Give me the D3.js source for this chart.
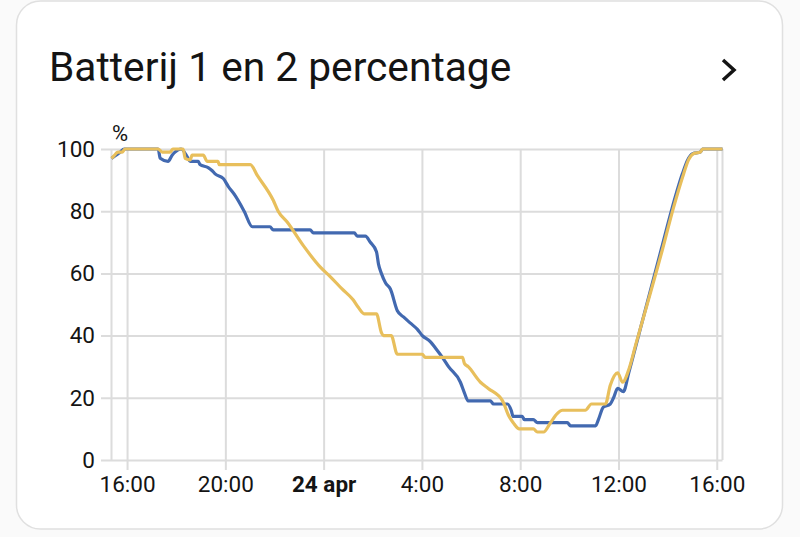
<!DOCTYPE html>
<html>
<head>
<meta charset="utf-8">
<title>Batterij 1 en 2 percentage</title>
<script src="https://d3js.org/d3.v7.min.js"></script>
<style>
    html, body { margin: 0; padding: 0; background: #fafafa; overflow: hidden; }
    text { font-family: Roboto, sans-serif; fill: #141414; }
    .axis path { display: none; }
    .axis line { stroke: #dcdcdc; stroke-width: 2; }
    .axis text { font-size: 22.5px; }
</style>
</head>
<body>
<script>
    const width = 800;
    const height = 537;

    // time values are minutes after 16:00 on 23 april
    const blueTime = [-38, -27, -17, -7, 76, 81, 100, 110, 117, 132, 149, 154, 174, 178, 198, 208, 215, 235, 247, 264, 286, 306, 349, 357, 447, 455, 555, 562, 582, 594, 609, 614, 621, 631, 643, 660, 675, 692, 709, 721, 741, 753, 770, 785, 814, 824, 833, 887, 895, 929, 938, 943, 965, 970, 992, 1002, 1075, 1083, 1144, 1151, 1163, 1180, 1188, 1198, 1212, 1225, 1237, 1305, 1331, 1356, 1369, 1381, 1400, 1405, 1454];
    const blueValues = [97, 98, 99, 100, 100, 97, 96, 98, 99, 100, 97, 96, 96, 95, 94, 93, 92, 90.5, 88, 85, 80, 75, 75, 74, 74, 73, 73, 72, 72, 70, 67, 63, 60, 57, 55, 48, 46, 44, 42, 40, 38, 36, 33, 30, 25, 21.5, 19, 19, 18, 18, 16, 14, 14, 13, 13, 12, 12, 11, 11, 13, 17, 18, 20, 23, 22, 28, 34, 68, 81, 92, 96.5, 98.5, 99, 100, 100];

    const orangeTime = [-38, -34, -22, -12, -5, 76, 86, 105, 112, 137, 142, 154, 159, 186, 196, 222, 225, 301, 318, 357, 369, 391, 430, 472, 496, 525, 552, 565, 579, 609, 621, 626, 645, 660, 721, 728, 819, 824, 833, 863, 882, 917, 931, 943, 958, 992, 1002, 1017, 1034, 1051, 1063, 1119, 1134, 1168, 1180, 1198, 1210, 1225, 1242, 1308, 1334, 1359, 1371, 1383, 1400, 1405, 1454];
    const orangeValues = [97, 97.5, 99, 99, 100, 100, 99, 99, 100, 100, 97, 96.5, 98, 98, 96, 96, 95, 95, 91.5, 83.5, 80, 76.5, 69, 62, 59, 55, 51.5, 49, 47, 47, 41, 40, 40, 34, 34, 33, 33, 31, 30, 25, 23, 19, 14.5, 12, 10, 10, 9, 9, 12, 15, 16, 16, 18, 18, 24, 28, 25, 29, 37, 68, 81, 92, 96.5, 98.5, 99, 100, 100];

    const tickMinutes = [0, 240, 480, 720, 960, 1200, 1440];
    const tickLabels = ['16:00', '20:00', '24 apr', '4:00', '8:00', '12:00', '16:00'];
    const yTicks = [0, 20, 40, 60, 80, 100];

    const startDate = new Date(2024, 3, 23, 16, 0);
    const toDate = m => d3.timeMinute.offset(startDate, m);

    const svg = d3.select('body')
        .append('svg')
        .attr('width', width)
        .attr('height', height)
        .style('display', 'block');

    // card
    svg.append('rect')
        .attr('x', 16.5)
        .attr('y', 1)
        .attr('width', 766)
        .attr('height', 528)
        .attr('rx', 24)
        .attr('fill', 'white')
        .attr('stroke', '#e0e0e0')
        .attr('stroke-width', 1.5);

    svg.append('text')
        .attr('x', 49)
        .attr('y', 81)
        .style('font-size', '40.7px')
        .text('Batterij 1 en 2 percentage');

    // chevron
    svg.append('path')
        .attr('d', 'M723 60 L734 70 L723 80')
        .attr('fill', 'none')
        .attr('stroke', '#141414')
        .attr('stroke-width', 3.5);

    svg.append('text')
        .attr('x', 120)
        .attr('y', 141)
        .attr('text-anchor', 'middle')
        .style('font-size', '22px')
        .text('%');

    const x = d3.scaleTime()
        .domain([toDate(-38), toDate(1454)])
        .range([111.5, 722.5]);

    const y = d3.scaleLinear()
        .domain([0, 100])
        .range([460, 149]);

    // left and right border of the plot
    svg.selectAll('line.edge')
        .data([toDate(-38), toDate(1454)])
        .enter()
        .append('line')
        .attr('class', 'edge')
        .attr('x1', d => x(d))
        .attr('x2', d => x(d))
        .attr('y1', y(100))
        .attr('y2', y(0))
        .attr('stroke', '#dcdcdc')
        .attr('stroke-width', 2);

    const yAxis = d3.axisLeft(y)
        .tickValues(yTicks)
        .tickSizeOuter(0);

    svg.append('g')
        .attr('class', 'axis')
        .attr('transform', 'translate(' + x.range()[1] + ',0)')
        .call(yAxis)
        .call(g => g.selectAll('line')
            .attr('x1', 0)
            .attr('x2', 101 - x.range()[1]))
        .call(g => g.selectAll('text')
            .attr('x', 95 - x.range()[1])
            .attr('dy', '0.32em')
            .attr('text-anchor', 'end'));

    const xAxis = d3.axisBottom(x)
        .tickValues(tickMinutes.map(toDate))
        .tickFormat((d, i) => tickLabels[i])
        .tickSizeOuter(0)
        .tickSize(321)
        .tickPadding(6);

    svg.append('g')
        .attr('class', 'axis')
        .attr('transform', 'translate(0,149)')
        .call(xAxis)
        .call(g => g.selectAll('text')
            .style('font-weight', (d, i) => i === 2 ? 'bold' : 'normal'));

    const line = d3.line()
        .x(d => x(toDate(d[0])))
        .y(d => y(d[1]))
        .curve(d3.curveMonotoneX);

    svg.append('path')
        .attr('d', line(d3.zip(blueTime, blueValues)))
        .attr('fill', 'none')
        .attr('stroke', '#4269b0')
        .attr('stroke-width', 3.2)
        .attr('stroke-linejoin', 'round');

    svg.append('path')
        .attr('d', line(d3.zip(orangeTime, orangeValues)))
        .attr('fill', 'none')
        .attr('stroke', '#e8bf5c')
        .attr('stroke-width', 3.2)
        .attr('stroke-linejoin', 'round');
</script>
</body>
</html>
